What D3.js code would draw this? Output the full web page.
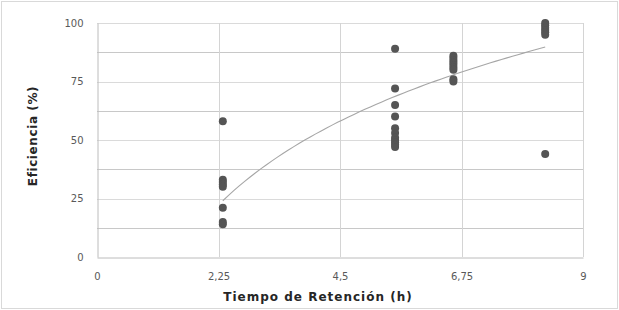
<!DOCTYPE html>
<html>
<head>
<meta charset="utf-8">
<script src="https://cdn.jsdelivr.net/npm/d3@7"></script>
<style>
  body { margin: 0; background: #fff; }
  svg { display: block; }
</style>
</head>
<body>
<script>
! function () {
  // tiempos de retención (h) y eficiencias (%)
  let tiempos = [2.33, 5.52, 6.6, 8.3];
  let eficiencias = [
    [58, 33, 32, 31, 30, 21, 15, 14],
    [89, 72, 65, 60, 55, 53, 51, 50, 49, 48, 47],
    [86, 85, 84, 83, 82, 81, 80, 76, 75],
    [100, 99, 98, 97, 96, 95, 44]
  ];
  let xTicks = [0, 2.25, 4.5, 6.75, 9];
  let yTicks = [0, 25, 50, 75, 100];
  let yGrid = [12.5, 25, 37.5, 50, 62.5, 75, 87.5, 100];
  // tendencia logarítmica y = a·ln(x) + b, coeficientes
  let trendA = 51.7, trendB = -19.7;

  let puntos = [];
  tiempos.forEach(function (t, i) {
    eficiencias[i].forEach(function (e) { puntos.push({ x: t, y: e }); });
  });

  let W = 619, H = 310;
  let svg = d3.select('body').append('svg').attr('width', W).attr('height', H);

  let x = d3.scaleLinear().domain([0, 9]).range([97, 583]);
  let y = d3.scaleLinear().domain([0, 100]).range([257, 23]);

  // marco exterior
  svg.append('rect')
    .attr('x', 1.5).attr('y', 1.5).attr('width', W - 3).attr('height', H - 3)
    .style('fill', '#fff').style('stroke', '#d9d9d9');

  let defs = svg.append('defs');
  defs.append('filter').attr('id', 'blur')
    .append('feGaussianBlur').attr('stdDeviation', 0.6);

  // rejilla horizontal
  svg.append('g').selectAll('line').data(yGrid).join('line')
    .attr('x1', x(0)).attr('x2', x(9))
    .attr('y1', d => Math.round(y(d)) + 0.5).attr('y2', d => Math.round(y(d)) + 0.5)
    .style('stroke', d => d % 25 === 0 ? '#dadada' : '#c8c8c8');

  // rejilla vertical
  svg.append('g').selectAll('line').data(xTicks.slice(1)).join('line')
    .attr('x1', d => Math.round(x(d)) + 0.5).attr('x2', d => Math.round(x(d)) + 0.5)
    .attr('y1', y(0)).attr('y2', y(100))
    .style('stroke', '#d4d4d4');

  // ejes
  let xAxis = d3.axisBottom(x).tickValues(xTicks).tickSize(0).tickPadding(15)
    .tickFormat(d => String(d).replace('.', ','));
  let gx = svg.append('g').attr('transform', 'translate(0,' + (Math.round(y(0)) + 0.5) + ')').call(xAxis);
  let yAxis = d3.axisLeft(y).tickValues(yTicks).tickSize(0).tickPadding(14);
  let gy = svg.append('g').attr('transform', 'translate(' + (Math.round(x(0)) + 0.5) + ',0)').call(yAxis);
  [gx, gy].forEach(function (g) {
    g.select('.domain').style('stroke', '#bcbcbc');
    g.selectAll('text').style('font-family', 'DejaVu Sans, Verdana, sans-serif')
      .style('font-size', '10px').style('fill', '#595959');
  });

  // línea de tendencia
  let xs = d3.range(60).map(i => tiempos[0] + (tiempos[3] - tiempos[0]) * i / 59);
  let line = d3.line().x(d => x(d)).y(d => y(trendA * Math.log(d) + trendB));
  svg.append('path')
    .attr('d', line(xs))
    .style('stroke', '#a6a6a6').style('stroke-width', 1.1).style('fill', 'none');

  // puntos
  svg.append('g').attr('filter', 'url(#blur)')
    .selectAll('circle').data(puntos).join('circle')
    .attr('cx', d => x(d.x)).attr('cy', d => y(d.y)).attr('r', 4)
    .style('fill', '#545454');

  // títulos de ejes
  svg.append('text')
    .attr('x', 318).attr('y', 301).attr('text-anchor', 'middle')
    .style('font-family', 'DejaVu Sans, Verdana, sans-serif')
    .style('font-size', '12px').style('font-weight', 'bold').style('letter-spacing', '1px')
    .style('fill', '#262626')
    .text('Tiempo de Retención (h)');
  svg.append('text')
    .attr('transform', 'translate(37,136) rotate(-90)').attr('text-anchor', 'middle')
    .style('font-family', 'DejaVu Sans, Verdana, sans-serif')
    .style('font-size', '12px').style('font-weight', 'bold').style('letter-spacing', '0.6px')
    .style('fill', '#262626')
    .text('Eficiencia (%)');
}()
</script>
</body>
</html>
